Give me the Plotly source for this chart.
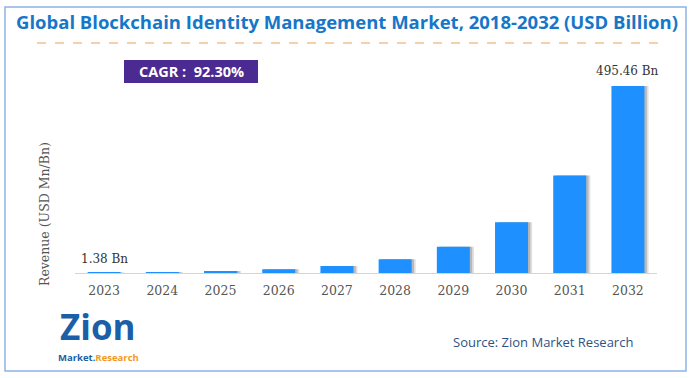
import plotly.graph_objects as go

W, H = 692, 378

years = ["2023", "2024", "2025", "2026", "2027", "2028", "2029", "2030", "2031", "2032"]
revenue = [1.38, 2.65, 5.10, 9.81, 18.87, 36.3, 69.8, 134.2, 258.0, 495.46]
first_label = "1.38 Bn"
last_label = "495.46 Bn"
title_text = "Global Blockchain Identity Management Market, 2018-2032 (USD Billion)"
cagr_text = "CAGR :  92.30%"
source_text = "Source: Zion Market Research"
ylabel = "Revenue (USD Mn/Bn)"

def px(x):
    return x / W

def py(y):
    return 1 - y / H

BAR = "#1e90ff"
serif = "DejaVu Serif, Georgia, serif"

fig = go.Figure()
# soft shadow bars
fig.add_trace(go.Bar(x=years, y=revenue, width=0.567, offset=-0.283 + 0.07,
                     marker=dict(color="rgba(130,130,130,0.25)", line=dict(width=0)),
                     hoverinfo="skip", showlegend=False))
fig.add_trace(go.Bar(x=years, y=revenue, width=0.567, offset=-0.283 + 0.04,
                     marker=dict(color="rgba(110,110,110,0.35)", line=dict(width=0)),
                     hoverinfo="skip", showlegend=False))
fig.add_trace(go.Bar(x=years, y=revenue, width=0.567, offset=-0.283,
                     marker=dict(color=BAR, line=dict(width=0)), showlegend=False))

ymax = 495.46 * 213 / 187

def ann(text, x, y, size, color, family="Open Sans", **kw):
    d = dict(text=text, xref="paper", yref="paper", x=px(x), y=py(y),
             xanchor="center", yanchor="middle", showarrow=False,
             font=dict(family=family, size=size, color=color))
    d.update(kw)
    return d

fig.update_layout(
    width=W, height=H,
    margin=dict(l=0, r=0, t=0, b=0),
    paper_bgcolor="white", plot_bgcolor="white",
    barmode="overlay",
    xaxis=dict(domain=[px(75), px(657)], range=[-0.5, 9.5], showgrid=False, showline=True,
               linecolor="#d4d4d4", linewidth=1, ticks="", ticklabelstandoff=6,
               tickfont=dict(family=serif, size=12.5, color="#555555"),
               type="category", fixedrange=True),
    yaxis=dict(domain=[py(273), py(60)], range=[0, ymax], showgrid=False,
               showticklabels=False, zeroline=False, showline=False, fixedrange=True),
    showlegend=False,
    shapes=[
        dict(type="rect", xref="paper", yref="paper", x0=px(5), x1=px(686),
             y0=py(371), y1=py(7), line=dict(color="#8db3e2", width=1.5)),
        dict(type="line", xref="paper", yref="paper", x0=px(37), x1=px(663),
             y0=py(43), y1=py(43), line=dict(color="#f0a050", width=1, dash="dash")),
        dict(type="rect", xref="paper", yref="paper", x0=px(124), x1=px(258),
             y0=py(83), y1=py(60), fillcolor="#4b2a91", line=dict(width=0), layer="below"),
    ],
    annotations=[
        ann("<b>" + title_text + "</b>", 347, 22, 18.5, "#1677c9"),
        ann("<b>" + cagr_text + "</b>", 191, 71.5, 14.5, "white"),
        ann(ylabel, 44, 214, 12.5, "#555555", family=serif, textangle=-90),
        dict(text=first_label, x=0, y=revenue[0], xref="x", yref="y",
             xanchor="center", yanchor="bottom", yshift=4, showarrow=False,
             font=dict(family=serif, size=12, color="#333333")),
        dict(text=last_label, x=9, y=revenue[-1], xref="x", yref="y",
             xanchor="center", yanchor="bottom", yshift=6, showarrow=False,
             font=dict(family=serif, size=12, color="#333333")),
        ann("<b>Zion</b>", 98, 326, 35, "#1a5fa8"),
        ann("<b><span style='color:#1a5fa8'>Market.</span><span style='color:#f39a1e'>Research</span></b>",
            98, 357, 9.5, "#1a5fa8"),
        ann(source_text, 543, 342, 13, "#2e5286"),
    ],
)

fig.write_html("out.html", config={"displayModeBar": False},
               post_script="document.body.style.margin='0px';")
